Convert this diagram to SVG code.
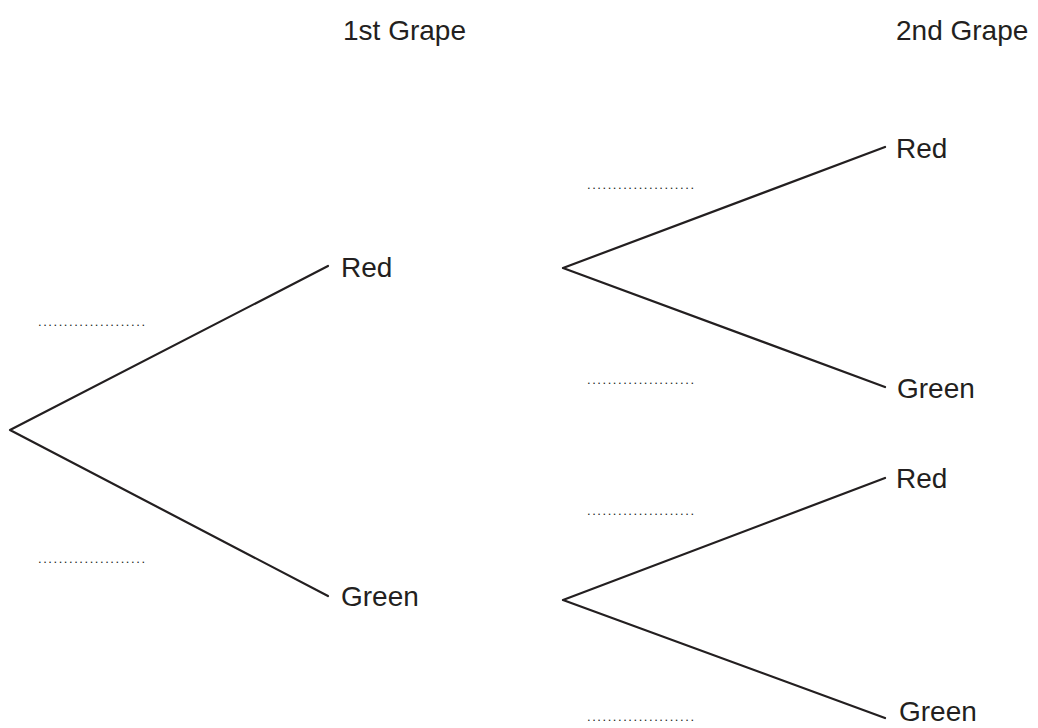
<svg xmlns="http://www.w3.org/2000/svg" width="1038" height="728" viewBox="0 0 1038 728">
<style>
.lbl{font-family:"Liberation Sans",Arial,sans-serif;font-size:28px;fill:#231f20}
.dots{font-family:"Liberation Sans",Arial,sans-serif;font-size:13px;fill:#231f20}
.br{stroke:#231f20;stroke-width:2.2;fill:none;stroke-linecap:round;stroke-linejoin:round}
</style>
<rect width="1038" height="728" fill="#fff"/>
<g id="headers">
<text class="lbl" x="343" y="40">1st Grape</text>
<text class="lbl" x="896" y="40">2nd Grape</text>
</g>
<g id="connectors">
<polyline class="br" points="328,266 10,430 328,596"/>
<polyline class="br" points="885,147 563,268 885,387"/>
<polyline class="br" points="885,478 563,600 885,718"/>
</g>
<g id="node-red1"><text class="lbl" x="341" y="277">Red</text></g>
<g id="node-green1"><text class="lbl" x="341" y="606">Green</text></g>
<g id="node-red2a"><text class="lbl" x="896" y="158">Red</text></g>
<g id="node-green2a"><text class="lbl" x="897" y="398">Green</text></g>
<g id="node-red2b"><text class="lbl" x="896" y="488">Red</text></g>
<g id="node-green2b"><text class="lbl" x="899" y="721">Green</text></g>
<g id="blanks">
<text class="dots" x="38" y="326" textLength="107" lengthAdjust="spacing">.....................</text>
<text class="dots" x="38" y="563" textLength="107" lengthAdjust="spacing">.....................</text>
<text class="dots" x="587" y="189" textLength="107" lengthAdjust="spacing">.....................</text>
<text class="dots" x="587" y="384" textLength="107" lengthAdjust="spacing">.....................</text>
<text class="dots" x="587" y="515" textLength="107" lengthAdjust="spacing">.....................</text>
<text class="dots" x="587" y="721" textLength="107" lengthAdjust="spacing">.....................</text>
</g>
</svg>
